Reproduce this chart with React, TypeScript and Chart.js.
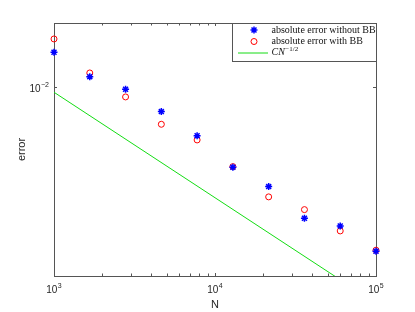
import React, { useEffect, useRef } from 'react';
import { Chart, registerables } from 'chart.js';

Chart.register(...registerables);

// ---- data ----
const nValues = [1000, 1668, 2783, 4642, 7743, 12915, 21544, 35938, 59948, 100000];
const errWithoutBB = [0.01461, 0.01119, 0.00975, 0.00764, 0.005876, 0.004163, 0.00337, 0.002386, 0.002194, 0.001665];
const errWithBB = [0.01689, 0.01165, 0.008968, 0.006654, 0.005608, 0.004191, 0.003012, 0.002621, 0.002077, 0.001683];
const refN = [1000, 100000];
const refValues = [0.00944, 0.000944];
const xTickValues = [1000, 2000, 3000, 4000, 5000, 6000, 7000, 8000, 9000, 10000, 20000, 30000, 40000, 50000, 60000, 70000, 80000, 90000, 100000];
const xMajorTicks = [1000, 10000, 100000];
const yTickValues = [0.01];
const xRange = [1000, 100000];
const yRange = [0.00127, 0.0201];
const legendLabels = ['absolute error without BB', 'absolute error with BB', 'CN'];
const legendExponent = '\u22121/2';

const AXIS_COLOR = '#555555';
const TEXT_COLOR = '#262626';
const BLUE = 'rgb(0,0,255)';
const RED = 'rgb(255,0,0)';
const GREEN = 'rgb(20,220,20)';
const SANS = '"Liberation Sans", Arial, sans-serif';

function drawStar(ctx: CanvasRenderingContext2D, x: number, y: number, r: number) {
  ctx.beginPath();
  for (let k = 0; k < 4; k++) {
    const ang = (k * Math.PI) / 4;
    const dx = Math.cos(ang) * r;
    const dy = Math.sin(ang) * r;
    ctx.moveTo(x - dx, y - dy);
    ctx.lineTo(x + dx, y + dy);
  }
  ctx.stroke();
}

// draws "10" with a raised exponent; anchor: 'center' (x is centre) or 'right' (x is right edge)
function drawPow(ctx: CanvasRenderingContext2D, v: number, x: number, y: number, anchor: 'center' | 'right') {
  const e = String(Math.round(Math.log10(v))).replace('-', '\u2212');
  ctx.font = `10px ${SANS}`;
  const wb = ctx.measureText('10').width;
  ctx.font = `7px ${SANS}`;
  const we = ctx.measureText(e).width;
  const total = wb + 0.5 + we;
  const x0 = anchor === 'center' ? x - total / 2 : x - total;
  ctx.fillStyle = TEXT_COLOR;
  ctx.textAlign = 'left';
  ctx.textBaseline = 'middle';
  ctx.font = `10px ${SANS}`;
  ctx.fillText('10', x0, y);
  ctx.font = `7px ${SANS}`;
  ctx.fillText(e, x0 + wb + 0.5, y - 4.5);
}

const framePlugin = {
  id: 'frame',
  beforeDatasetsDraw(chart: any) {
    const { ctx, chartArea: a, scales } = chart;
    ctx.save();
    ctx.strokeStyle = AXIS_COLOR;
    ctx.lineWidth = 1;
    ctx.strokeRect(Math.round(a.left) + 0.5, Math.round(a.top) + 0.5, Math.round(a.right - a.left), Math.round(a.bottom - a.top));
    const xs = scales.x;
    ctx.beginPath();
    for (const v of xTickValues) {
      const px = Math.round(xs.getPixelForValue(v)) + 0.5;
      const len = xMajorTicks.includes(v) ? 3 : 2.5;
      ctx.moveTo(px, a.bottom);
      ctx.lineTo(px, a.bottom - len);
      ctx.moveTo(px, a.top);
      ctx.lineTo(px, a.top + len);
    }
    const ys = scales.y;
    for (const v of yTickValues) {
      const py = Math.round(ys.getPixelForValue(v)) + 0.5;
      ctx.moveTo(a.left, py);
      ctx.lineTo(a.left + 3, py);
      ctx.moveTo(a.right, py);
      ctx.lineTo(a.right - 3, py);
    }
    ctx.stroke();
    // tick labels
    for (const v of xMajorTicks) {
      drawPow(ctx, v, xs.getPixelForValue(v), a.bottom + 14.5, 'center');
    }
    for (const v of yTickValues) {
      drawPow(ctx, v, a.left - 5, ys.getPixelForValue(v) + 2.5, 'right');
    }
    ctx.restore();
  },
};

const legendPlugin = {
  id: 'customLegend',
  afterDraw(chart: any) {
    const { ctx } = chart;
    const ds = chart.data.datasets;
    const bx = 232.5, by = 23.5, bw = 144, bh = 38;
    ctx.save();
    ctx.fillStyle = '#ffffff';
    ctx.fillRect(bx, by, bw, bh);
    ctx.strokeStyle = AXIS_COLOR;
    ctx.lineWidth = 1;
    ctx.strokeRect(bx, by, bw, bh);
    const rows = [30, 41.5, 52.5];
    const textX = 271.5;
    ctx.strokeStyle = ds[0].borderColor;
    ctx.lineWidth = 1.5;
    drawStar(ctx, 254, rows[0], 3.5);
    ctx.strokeStyle = ds[1].borderColor;
    ctx.lineWidth = 1;
    ctx.beginPath();
    ctx.arc(254, rows[1], 3, 0, Math.PI * 2);
    ctx.stroke();
    ctx.strokeStyle = ds[2].borderColor;
    ctx.beginPath();
    ctx.moveTo(238, rows[2] + 0.5);
    ctx.lineTo(268, rows[2] + 0.5);
    ctx.stroke();
    ctx.font = '10px "Liberation Serif", "Times New Roman", serif';
    ctx.fillStyle = '#111111';
    ctx.textBaseline = 'middle';
    ctx.textAlign = 'left';
    ctx.fillText(legendLabels[0], textX, rows[0]);
    ctx.fillText(legendLabels[1], textX, rows[1]);
    ctx.font = 'italic 10px "Liberation Serif", "Times New Roman", serif';
    ctx.fillText(legendLabels[2], textX, rows[2]);
    const w = ctx.measureText(legendLabels[2]).width;
    ctx.font = '7px "Liberation Serif", "Times New Roman", serif';
    ctx.fillText(legendExponent, textX + w + 0.5, rows[2] - 3);
    ctx.restore();
  },
};

export default function App() {
  const ref = useRef<HTMLCanvasElement | null>(null);
  useEffect(() => {
    if (!ref.current) return;
    const chart = new Chart(ref.current, {
      type: 'scatter',
      data: {
        datasets: [
          {
            label: legendLabels[0],
            data: nValues.map((n, i) => ({ x: n, y: errWithoutBB[i] })),
            pointStyle: 'star',
            pointRadius: 3.5,
            pointBorderWidth: 1.5,
            borderColor: BLUE,
            backgroundColor: BLUE,
            showLine: false,
            clip: false,
          },
          {
            label: legendLabels[1],
            data: nValues.map((n, i) => ({ x: n, y: errWithBB[i] })),
            pointStyle: 'circle',
            pointRadius: 3,
            pointBorderWidth: 1,
            borderColor: RED,
            backgroundColor: 'rgba(0,0,0,0)',
            showLine: false,
            clip: false,
          },
          {
            label: 'CN^{-1/2}',
            data: refN.map((n, i) => ({ x: n, y: refValues[i] })),
            showLine: true,
            pointRadius: 0,
            borderWidth: 1,
            borderColor: GREEN,
            backgroundColor: GREEN,
          },
        ],
      },
      options: {
        animation: false,
        responsive: false,
        devicePixelRatio: 1,
        layout: { padding: { left: 0, top: 23, right: 39, bottom: 0 } },
        plugins: { legend: { display: false }, tooltip: { enabled: false } },
        scales: {
          x: {
            type: 'logarithmic',
            min: xRange[0],
            max: xRange[1],
            grid: { display: false, drawTicks: false },
            border: { display: false },
            afterBuildTicks: (s: any) => {
              s.ticks = xTickValues.map((v) => ({ value: v }));
            },
            afterFit: (s: any) => {
              s.height = 36;
            },
            ticks: { display: false },
            title: {
              display: true,
              text: 'N',
              color: TEXT_COLOR,
              font: { family: SANS, size: 11 },
              padding: { top: 1.4, bottom: 0 },
            },
          },
          y: {
            type: 'logarithmic',
            min: yRange[0],
            max: yRange[1],
            grid: { display: false, drawTicks: false },
            border: { display: false },
            afterBuildTicks: (s: any) => {
              s.ticks = yTickValues.map((v) => ({ value: v }));
            },
            afterFit: (s: any) => {
              s.width = 54;
            },
            ticks: { display: false },
            title: {
              display: true,
              text: 'error',
              color: TEXT_COLOR,
              font: { family: SANS, size: 11 },
              padding: { top: 15.4, bottom: 0 },
            },
          },
        },
      },
      plugins: [framePlugin, legendPlugin],
    } as any);
    return () => chart.destroy();
  }, []);
  return (
    <div style={{ position: 'fixed', left: 0, top: 0, width: 415, height: 312, background: '#fff' }}>
      <canvas ref={ref} width={415} height={312} />
    </div>
  );
}
